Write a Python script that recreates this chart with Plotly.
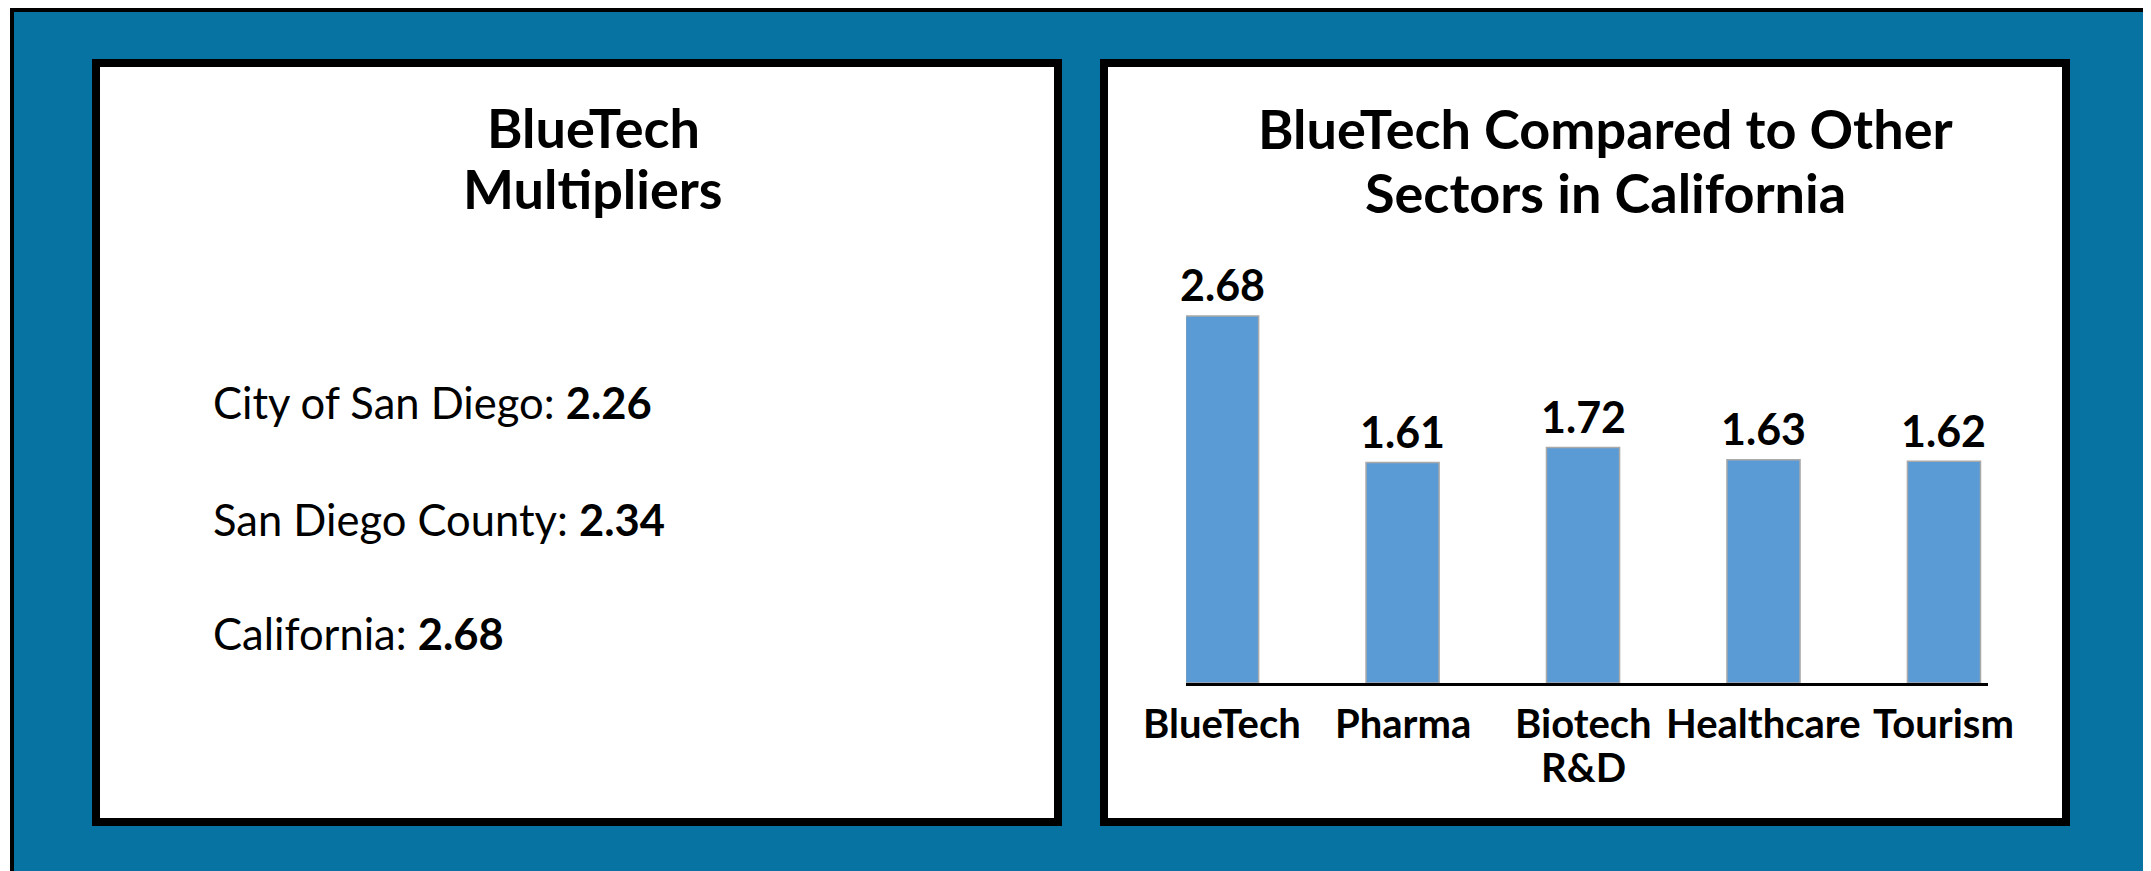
import plotly.graph_objects as go

W, H = 2151, 871
OFF = 8  # page body margin offset

sectors = ["BlueTech", "Pharma", "Biotech R&D", "Healthcare", "Tourism"]
sector_label_lines = [["BlueTech"], ["Pharma"], ["Biotech", "R&D"], ["Healthcare"], ["Tourism"]]
sector_values = [2.68, 1.61, 1.72, 1.63, 1.62]

regions = ["City of San Diego", "San Diego County", "California"]
region_values = [2.26, 2.34, 2.68]

left_title = ["BlueTech", "Multipliers"]
right_title = ["BlueTech Compared to Other", "Sectors in California"]

BLUE = "#0773A3"
BAR = "#5B9BD5"
FONT = "Lato"


def px(x):
    return min(max((x - OFF) / W, 0), 1)


def py(y):
    return min(max(1 - (y - OFF) / H, 0), 1)


def rect(x0, y0, x1, y1, color):
    return dict(type="rect", xref="paper", yref="paper",
                x0=px(x0), x1=px(x1), y0=py(y1), y1=py(y0),
                fillcolor=color, line=dict(width=0), layer="below")


shapes = [
    rect(10, 8, W + OFF, H + OFF, "black"),
    rect(14, 12, W + OFF, H + OFF, BLUE),
    rect(92, 59, 1062, 826, "black"),
    rect(100, 67, 1054, 818, "white"),
    rect(1100, 59, 2070, 826, "black"),
    rect(1108, 67, 2062, 818, "white"),
]

fig = go.Figure()
fig.add_trace(go.Bar(
    x=sectors, y=sector_values,
    width=0.405,
    marker=dict(color=BAR, line=dict(color="#A9A9A9", width=1.5)),
    hoverinfo="skip",
))

annotations = []
# value labels above bars
for s, v in zip(sectors, sector_values):
    annotations.append(dict(xref="x", yref="y", x=s, y=v, yshift=31,
                            text=f"<b>{v:.2f}</b>", showarrow=False,
                            xanchor="center", yanchor="middle",
                            font=dict(family=FONT, size=43, color="black")))
# category labels under the axis
for s, lines in zip(sectors, sector_label_lines):
    for line, yc in zip(lines, [723, 767]):
        annotations.append(dict(xref="x", yref="paper", x=s, y=py(yc),
                                text=f"<b>{line}</b>", showarrow=False,
                                height=38, valign="middle",
                                xanchor="center", yanchor="middle",
                                font=dict(family=FONT, size=40, color="black")))
# left panel title
for txt, yc in zip(left_title, [128, 189]):
    annotations.append(dict(xref="paper", yref="paper", x=px(593), y=py(yc),
                            text=f"<b>{txt}</b>", showarrow=False,
                            xanchor="center", yanchor="middle",
                            font=dict(family=FONT, size=54, color="black")))
# right panel title
for txt, yc in zip(right_title, [129, 193]):
    annotations.append(dict(xref="paper", yref="paper", x=px(1605), y=py(yc),
                            text=f"<b>{txt}</b>", showarrow=False,
                            xanchor="center", yanchor="middle",
                            font=dict(family=FONT, size=54, color="black")))
# left panel list
for name, val, yc in zip(regions, region_values, [402, 519, 633]):
    annotations.append(dict(xref="paper", yref="paper", x=px(211), y=py(yc),
                            text=f"{name}: <b>{val:.2f}</b>", showarrow=False,
                            xanchor="left", yanchor="middle",
                            font=dict(family=FONT, size=43.5, color="black")))

x_lo, x_hi = -0.2, 4.244
y_top_px, y_bot_px = 250, 683
ppu = (683 - 316) / 2.68

fig.update_layout(
    template="none",
    width=W, height=H, autosize=False,
    margin=dict(l=0, r=0, t=0, b=0, pad=0, autoexpand=False),
    paper_bgcolor="white", plot_bgcolor="rgba(0,0,0,0)",
    showlegend=False,
    shapes=shapes,
    annotations=annotations,
    xaxis=dict(domain=[px(1186), px(1988)], range=[x_lo, x_hi],
               type="category", automargin=False,
               showline=True, linecolor="black", linewidth=3,
               showgrid=False, zeroline=False,
               ticks="", showticklabels=False),
    yaxis=dict(domain=[py(y_bot_px), py(y_top_px)],
               range=[0, (y_bot_px - y_top_px) / ppu], automargin=False,
               visible=False, showgrid=False, zeroline=False),
)

fig.write_html("out.html")
